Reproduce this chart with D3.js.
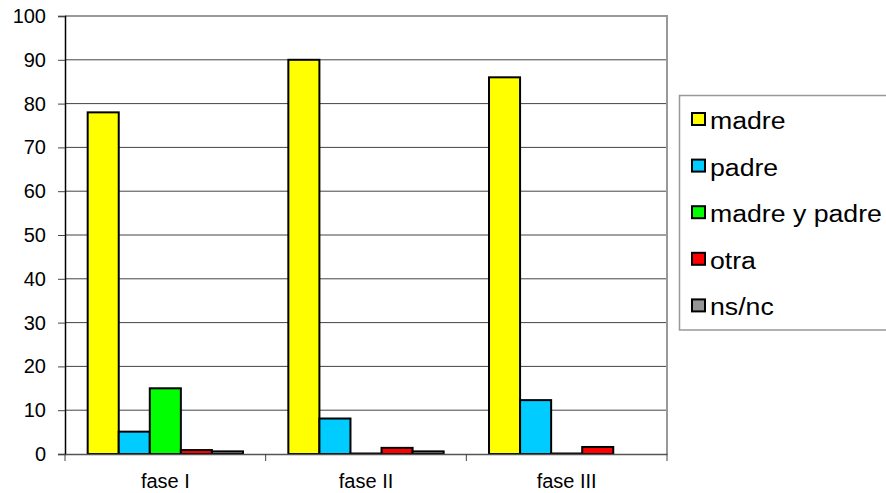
<!DOCTYPE html>
<html><head><meta charset="utf-8">
<script src="https://cdn.jsdelivr.net/npm/d3@7"></script>
<style>body{margin:0;background:#fff}svg{display:block}text{font-family:"Liberation Sans",Arial,sans-serif;fill:#000}</style>
</head><body>
<svg id="c" width="886" height="493"></svg>
<script>
const categories = ["fase I", "fase II", "fase III"];
const seriesNames = ["madre", "padre", "madre y padre", "otra", "ns/nc"];
const madre = [78, 90, 86];
const padre = [5.1, 8.1, 12.3];
const madreYPadre = [15, 0, 0];
const otra = [0.9, 1.4, 1.6];
const nsnc = [0.6, 0.6, null];
const yTicks = [0, 10, 20, 30, 40, 50, 60, 70, 80, 90, 100];
const colors = ["#FFFF00", "#00CCFF", "#00FF00", "#FF0000", "#969696"];

const seriesValues = [madre, padre, madreYPadre, otra, nsnc];
const svg = d3.select("#c");
const L = 65, R = 667, T = 16, B = 454;

const y = d3.scaleLinear().domain([0, 100]).range([B, T]);
const x0 = d3.scaleBand().domain(categories).range([L, R]).paddingInner(0).paddingOuter(0);
const x1 = d3.scaleBand().domain(seriesNames).range([0, x0.bandwidth()]).paddingInner(0).paddingOuter(0.73);

// gridlines
svg.append("g").selectAll("line").data(yTicks.filter(d => d > 0 && d < 100)).join("line")
  .attr("x1", L).attr("x2", R).attr("y1", d => y(d)).attr("y2", d => y(d))
  .attr("stroke", "#444").attr("stroke-width", 1);
// top and right border
svg.append("line").attr("x1", L).attr("x2", R + 1).attr("y1", y(100)).attr("y2", y(100)).attr("stroke", "#999").attr("stroke-width", 2);
svg.append("line").attr("x1", R).attr("x2", R).attr("y1", y(100)).attr("y2", B).attr("stroke", "#999").attr("stroke-width", 2);

// bars
const data = [];
categories.forEach((c, i) => seriesNames.forEach((s, j) => {
  const v = seriesValues[j][i];
  if (v !== null) data.push({c, s, v, color: colors[j]});
}));
svg.append("g").selectAll("rect").data(data).join("rect")
  .attr("x", d => x0(d.c) + x1(d.s))
  .attr("y", d => Math.min(y(d.v), B - 0.5))
  .attr("width", x1.bandwidth())
  .attr("height", d => Math.max(B - y(d.v), 0.5))
  .attr("fill", d => d.color)
  .attr("stroke", "#000").attr("stroke-width", 2);

// y axis
const yAxis = d3.axisLeft(y).tickValues(yTicks).tickSize(7).tickPadding(12).tickFormat(d3.format("d"));
const gy = svg.append("g").attr("transform", `translate(${L},0)`).call(yAxis);
gy.select(".domain").attr("stroke", "#000").attr("stroke-width", 1.5);
gy.selectAll(".tick line").attr("stroke", "#444");
gy.selectAll("text").style("font-size", "20px").attr("fill", "#000");

// x axis
const xAxis = d3.axisBottom(x0).tickSize(0).tickPadding(0);
const gx = svg.append("g").attr("transform", `translate(0,${B})`).call(xAxis);
gx.select(".domain").attr("stroke", "#555").attr("stroke-width", 1.5);
gx.selectAll("text").style("font-size", "20px").attr("dy", null).attr("y", 34).attr("fill", "#000");
const bounds = categories.map(c => x0(c)).concat([R]);
svg.append("g").selectAll("line").data(bounds).join("line")
  .attr("x1", d => d).attr("x2", d => d).attr("y1", B).attr("y2", B + 7)
  .attr("stroke", "#444").attr("stroke-width", 1);

// legend
const lg = svg.append("g");
lg.append("rect").attr("x", 679.5).attr("y", 95.5).attr("width", 230).attr("height", 234.5)
  .attr("fill", "#fff").attr("stroke", "#999").attr("stroke-width", 1.5);
const items = lg.selectAll("g.item").data(seriesNames).join("g").attr("class", "item")
  .attr("transform", (d, i) => `translate(0,${120 + i * 46.6})`);
items.append("rect").attr("x", 692).attr("y", -7).attr("width", 13).attr("height", 12)
  .attr("fill", (d, i) => colors[i]).attr("stroke", "#000").attr("stroke-width", 2);
items.append("text").attr("transform", "translate(710,9) scale(1.16,1)")
  .style("font-size", "23px").text(d => d);
</script>
</body></html>
